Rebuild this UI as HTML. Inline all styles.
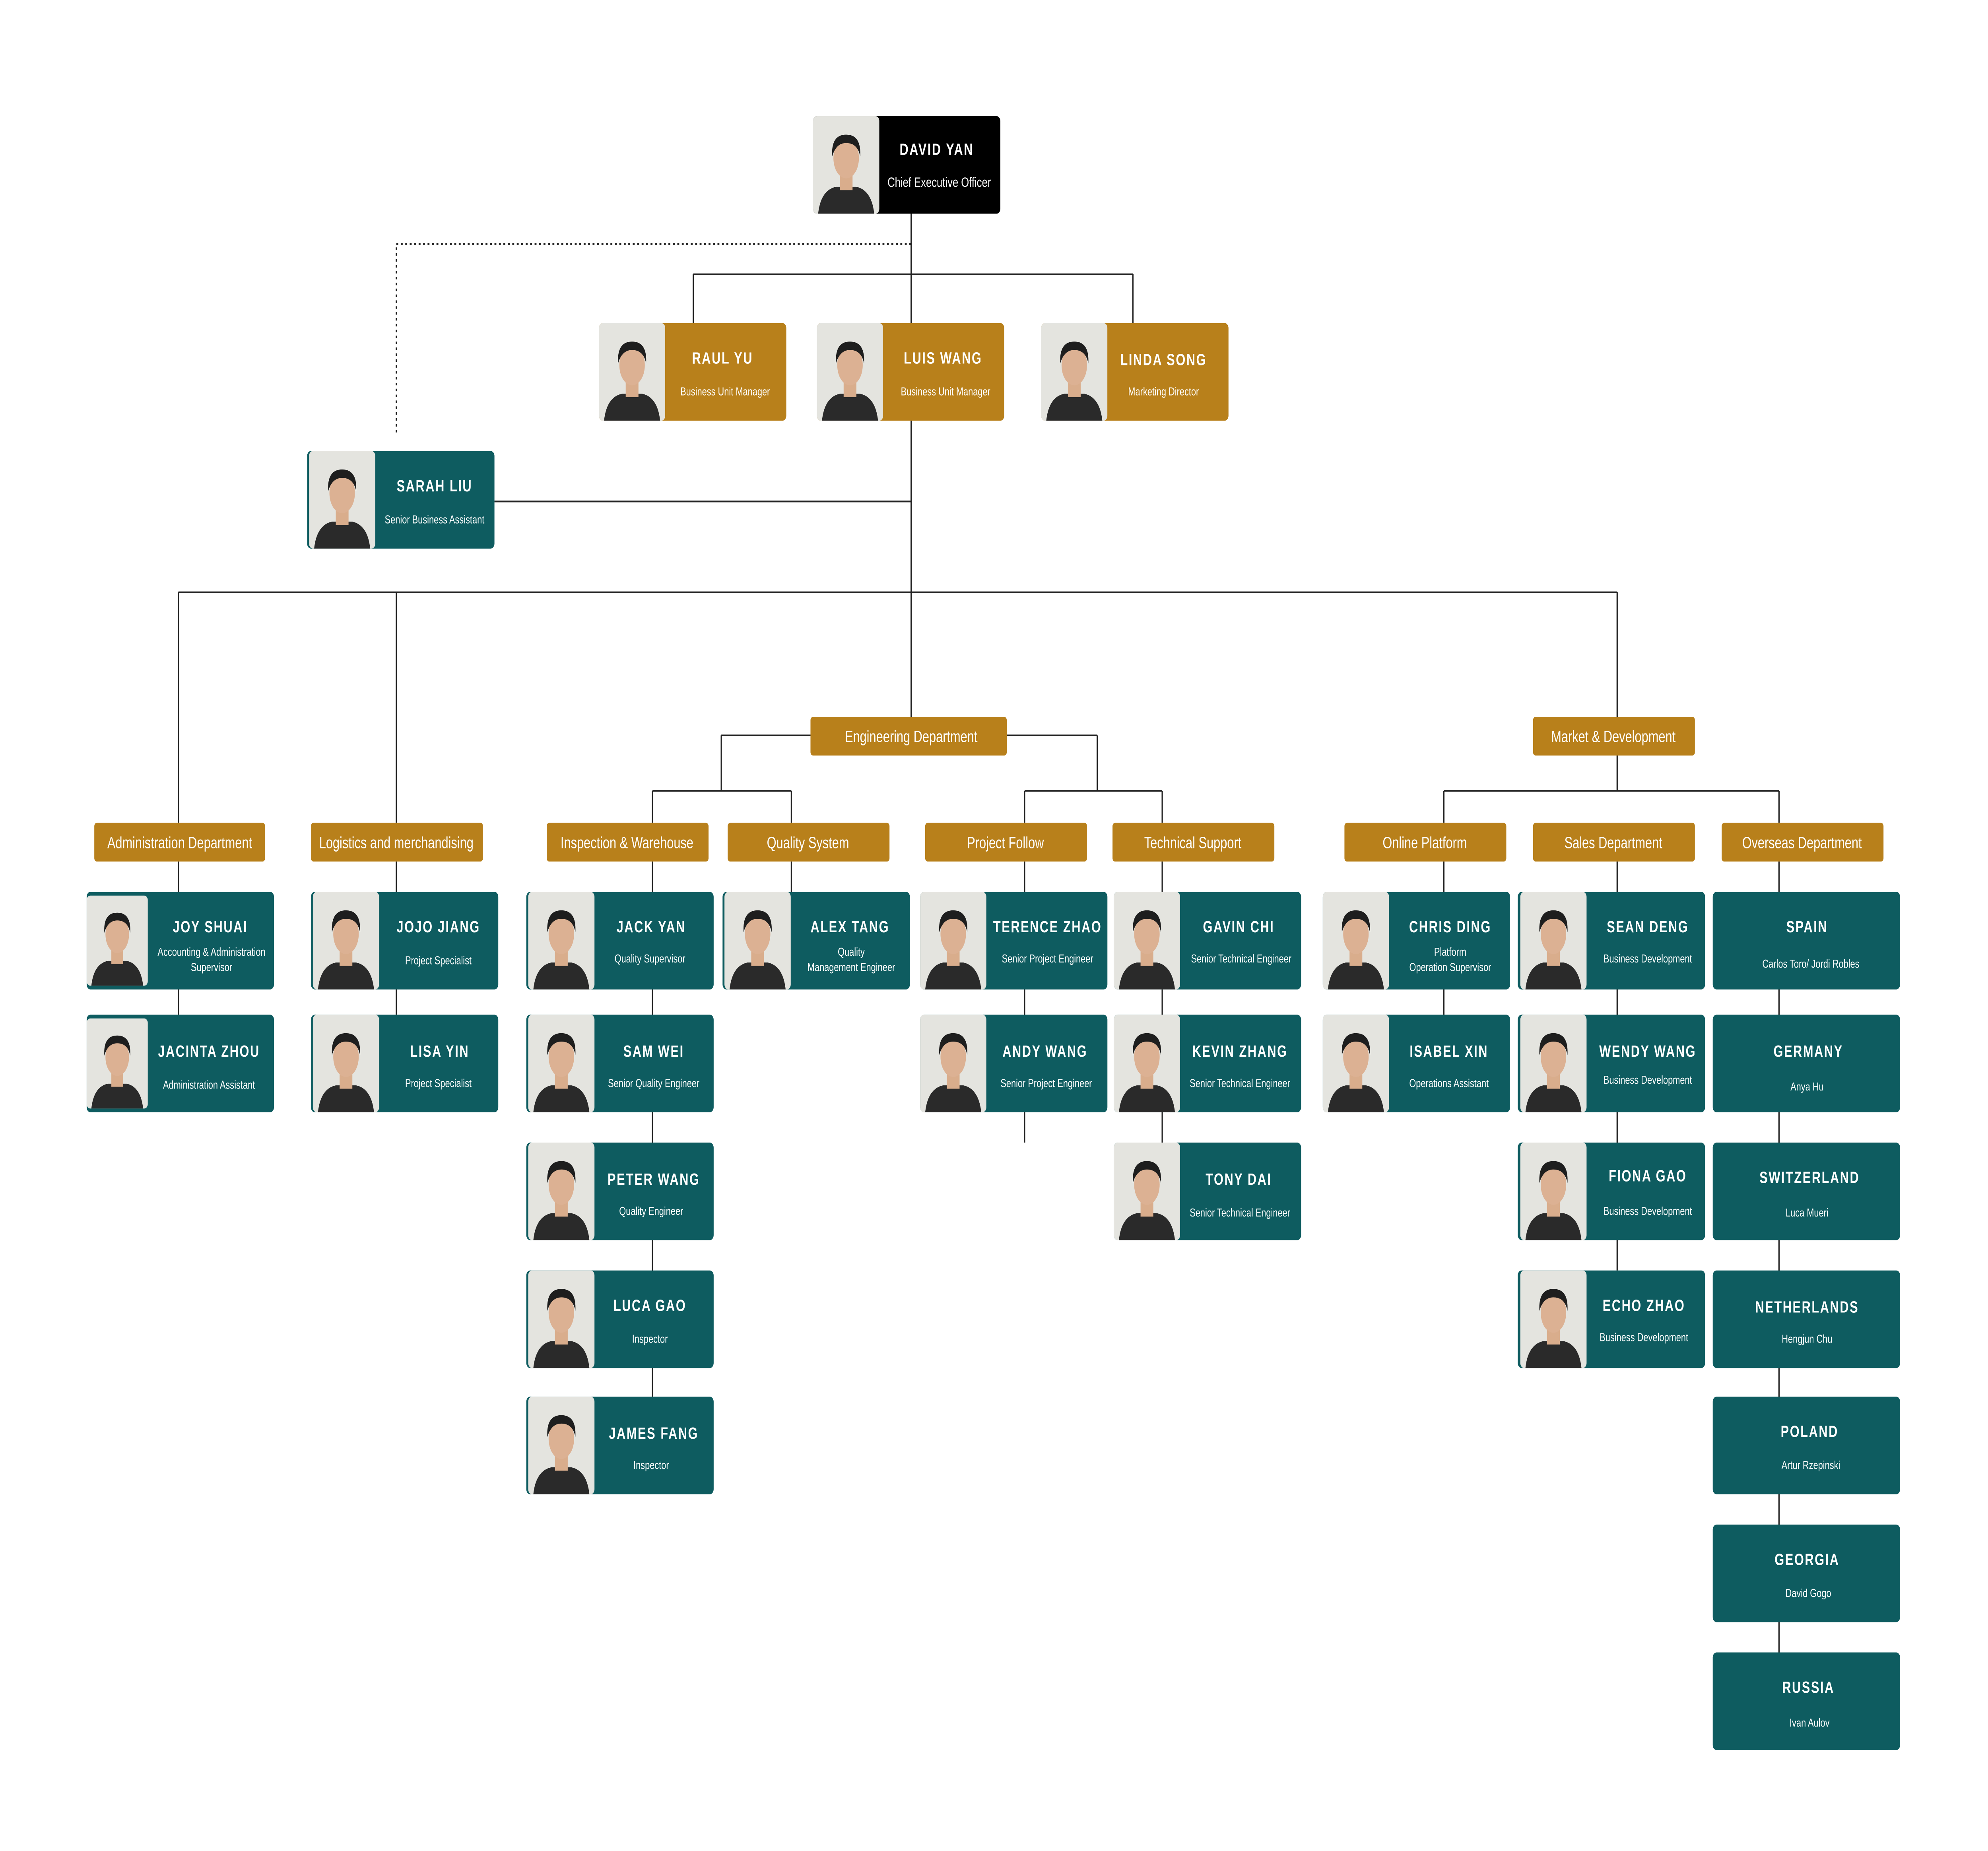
<!DOCTYPE html>
<html><head><meta charset="utf-8"><style>
html,body{margin:0;padding:0;background:#fff;overflow:hidden;width:100vw;height:100vh}
svg{display:block;position:absolute;left:0;top:0;width:100vw;height:100vh}
.n{font-family:"Liberation Sans",sans-serif;font-size:9.6px;font-weight:bold;fill:#fff;text-anchor:middle;letter-spacing:0.8px}
.s{font-family:"Liberation Sans",sans-serif;font-size:6.8px;fill:#fff;text-anchor:middle}
.l{font-family:"Liberation Sans",sans-serif;font-size:9.6px;fill:#fff;text-anchor:middle}
</style></head><body>
<svg viewBox="0 0 1560 1100" preserveAspectRatio="none" xmlns="http://www.w3.org/2000/svg">
<defs>
<symbol id="p" viewBox="0 0 52 58">
<rect width="52" height="58" rx="3" fill="#e4e4df"/>
<path d="M4 58 Q6 44 18 42 L34 42 Q46 44 48 58 Z" fill="#2a2a2a"/>
<rect x="21" y="34" width="10" height="10" fill="#d9ad8c"/>
<ellipse cx="26" cy="25" rx="10" ry="12" fill="#dcb193"/>
<path d="M15 24 Q14 11 26 11 Q38 11 37 24 Q35 16 26 16 Q18 16 15 24 Z" fill="#1e1e1e"/>
</symbol>
</defs>
<g stroke="#222" stroke-width="1" fill="none">
<path d="M715 127 V163 M544 163 H889 M544 163 V192 M715 163 V192 M889 163 V192"/>
<path d="M715 145 H311 V258" stroke-dasharray="1.5,2"/>
<path d="M715 250 V426 M388 298 H715 M140 352 H1269 M140 352 V489 M311 352 V489 M1269 352 V426"/>
<path d="M566 437 H861 M566 437 V470 M861 437 V470 M512 470 H621 M804 470 H912 M512 470 V489 M621 470 V489 M804 470 V489 M912 470 V489"/>
<path d="M1269 449 V470 M1133 470 H1396 M1133 470 V489 M1396 470 V489"/>
<path d="M140 512 V603 M311 512 V603 M512 512 V830 M621 512 V530 M804 512 V679 M912 512 V679 M1133 512 V603 M1269 512 V755 M1396 512 V982"/>
</g>
<g transform="translate(638,69)"><rect width="147" height="58" rx="3" fill="#000"/><use href="#p" width="52" height="58"/><text x="97" y="23" class="n">DAVID YAN</text><text x="99" y="42" class="s" style="font-size:8px">Chief Executive Officer</text></g>
<g transform="translate(470,192)"><rect width="147" height="58" rx="3" fill="#b8801b"/><use href="#p" width="52" height="58"/><text x="97" y="24" class="n">RAUL YU</text><text x="99" y="43" class="s">Business Unit Manager</text></g>
<g transform="translate(641,192)"><rect width="147" height="58" rx="3" fill="#b8801b"/><use href="#p" width="52" height="58"/><text x="99" y="24" class="n">LUIS WANG</text><text x="101" y="43" class="s">Business Unit Manager</text></g>
<g transform="translate(817,192)"><rect width="147" height="58" rx="3" fill="#b8801b"/><use href="#p" width="52" height="58"/><text x="96" y="25" class="n">LINDA SONG</text><text x="96" y="43" class="s">Marketing Director</text></g>
<g transform="translate(241,268)"><rect width="147" height="58" rx="3" fill="#0e5c60"/><use href="#p" width="55" height="58"/><text x="100" y="24" class="n">SARAH LIU</text><text x="100" y="43" class="s">Senior Business Assistant</text></g>
<g>
<rect x="636" y="426" width="154" height="23" rx="2" fill="#b8801b"/><text x="715" y="441" class="l">Engineering Department</text>
<rect x="1203" y="426" width="127" height="23" rx="2" fill="#b8801b"/><text x="1266" y="441" class="l">Market &amp; Development</text>
<rect x="74" y="489" width="134" height="23" rx="2" fill="#b8801b"/><text x="141" y="504" class="l">Administration Department</text>
<rect x="244" y="489" width="135" height="23" rx="2" fill="#b8801b"/><text x="311" y="504" class="l">Logistics and merchandising</text>
<rect x="429" y="489" width="127" height="23" rx="2" fill="#b8801b"/><text x="492" y="504" class="l">Inspection &amp; Warehouse</text>
<rect x="571" y="489" width="127" height="23" rx="2" fill="#b8801b"/><text x="634" y="504" class="l">Quality System</text>
<rect x="726" y="489" width="127" height="23" rx="2" fill="#b8801b"/><text x="789" y="504" class="l">Project Follow</text>
<rect x="873" y="489" width="127" height="23" rx="2" fill="#b8801b"/><text x="936" y="504" class="l">Technical Support</text>
<rect x="1055" y="489" width="127" height="23" rx="2" fill="#b8801b"/><text x="1118" y="504" class="l">Online Platform</text>
<rect x="1203" y="489" width="127" height="23" rx="2" fill="#b8801b"/><text x="1266" y="504" class="l">Sales Department</text>
<rect x="1351" y="489" width="127" height="23" rx="2" fill="#b8801b"/><text x="1414" y="504" class="l">Overseas Department</text>
</g>
<g transform="translate(68,530)"><rect width="147" height="58" rx="3" fill="#0e5c60"/><use href="#p" width="48" height="58"/><text x="97" y="24" class="n">JOY SHUAI</text><text x="98" y="38" class="s">Accounting &amp; Administration</text><text x="98" y="47" class="s">Supervisor</text></g>
<g transform="translate(68,603)"><rect width="147" height="58" rx="3" fill="#0e5c60"/><use href="#p" width="48" height="58"/><text x="96" y="25" class="n">JACINTA ZHOU</text><text x="96" y="44" class="s">Administration Assistant</text></g>
<g transform="translate(244,530)"><rect width="147" height="58" rx="3" fill="#0e5c60"/><use href="#p" width="55" height="58"/><text x="100" y="24" class="n">JOJO JIANG</text><text x="100" y="43" class="s">Project Specialist</text></g>
<g transform="translate(244,603)"><rect width="147" height="58" rx="3" fill="#0e5c60"/><use href="#p" width="55" height="58"/><text x="101" y="25" class="n">LISA YIN</text><text x="100" y="43" class="s">Project Specialist</text></g>
<g transform="translate(413,530)"><rect width="147" height="58" rx="3" fill="#0e5c60"/><use href="#p" width="55" height="58"/><text x="98" y="24" class="n">JACK YAN</text><text x="97" y="42" class="s">Quality Supervisor</text></g>
<g transform="translate(413,603)"><rect width="147" height="58" rx="3" fill="#0e5c60"/><use href="#p" width="55" height="58"/><text x="100" y="25" class="n">SAM WEI</text><text x="100" y="43" class="s">Senior Quality Engineer</text></g>
<g transform="translate(413,679)"><rect width="147" height="58" rx="3" fill="#0e5c60"/><use href="#p" width="55" height="58"/><text x="100" y="25" class="n">PETER  WANG</text><text x="98" y="43" class="s">Quality Engineer</text></g>
<g transform="translate(413,755)"><rect width="147" height="58" rx="3" fill="#0e5c60"/><use href="#p" width="55" height="58"/><text x="97" y="24" class="n">LUCA GAO</text><text x="97" y="43" class="s">Inspector</text></g>
<g transform="translate(413,830)"><rect width="147" height="58" rx="3" fill="#0e5c60"/><use href="#p" width="55" height="58"/><text x="100" y="25" class="n">JAMES FANG</text><text x="98" y="43" class="s">Inspector</text></g>
<g transform="translate(567,530)"><rect width="147" height="58" rx="3" fill="#0e5c60"/><use href="#p" width="55" height="58"/><text x="100" y="24" class="n">ALEX TANG</text><text x="101" y="38" class="s">Quality</text><text x="101" y="47" class="s">Management Engineer</text></g>
<g transform="translate(722,530)"><rect width="147" height="58" rx="3" fill="#0e5c60"/><use href="#p" width="52" height="58"/><text x="100" y="24" class="n">TERENCE ZHAO</text><text x="100" y="42" class="s">Senior Project Engineer</text></g>
<g transform="translate(722,603)"><rect width="147" height="58" rx="3" fill="#0e5c60"/><use href="#p" width="52" height="58"/><text x="98" y="25" class="n">ANDY WANG</text><text x="99" y="43" class="s">Senior Project Engineer</text></g>
<g transform="translate(874,530)"><rect width="147" height="58" rx="3" fill="#0e5c60"/><use href="#p" width="52" height="58"/><text x="98" y="24" class="n">GAVIN CHI</text><text x="100" y="42" class="s">Senior Technical Engineer</text></g>
<g transform="translate(874,603)"><rect width="147" height="58" rx="3" fill="#0e5c60"/><use href="#p" width="52" height="58"/><text x="99" y="25" class="n">KEVIN ZHANG</text><text x="99" y="43" class="s">Senior Technical Engineer</text></g>
<g transform="translate(874,679)"><rect width="147" height="58" rx="3" fill="#0e5c60"/><use href="#p" width="52" height="58"/><text x="98" y="25" class="n">TONY DAI</text><text x="99" y="44" class="s">Senior Technical Engineer</text></g>
<g transform="translate(1038,530)"><rect width="147" height="58" rx="3" fill="#0e5c60"/><use href="#p" width="52" height="58"/><text x="100" y="24" class="n">CHRIS DING</text><text x="100" y="38" class="s">Platform</text><text x="100" y="47" class="s">Operation Supervisor</text></g>
<g transform="translate(1038,603)"><rect width="147" height="58" rx="3" fill="#0e5c60"/><use href="#p" width="52" height="58"/><text x="99" y="25" class="n">ISABEL XIN</text><text x="99" y="43" class="s">Operations Assistant</text></g>
<g transform="translate(1191,530)"><rect width="147" height="58" rx="3" fill="#0e5c60"/><use href="#p" width="56" height="58"/><text x="102" y="24" class="n">SEAN DENG</text><text x="102" y="42" class="s">Business Development</text></g>
<g transform="translate(1191,603)"><rect width="147" height="58" rx="3" fill="#0e5c60"/><use href="#p" width="56" height="58"/><text x="102" y="25" class="n">WENDY WANG</text><text x="102" y="41" class="s">Business Development</text></g>
<g transform="translate(1191,679)"><rect width="147" height="58" rx="3" fill="#0e5c60"/><use href="#p" width="56" height="58"/><text x="102" y="23" class="n">FIONA GAO</text><text x="102" y="43" class="s">Business Development</text></g>
<g transform="translate(1191,755)"><rect width="147" height="58" rx="3" fill="#0e5c60"/><use href="#p" width="56" height="58"/><text x="99" y="24" class="n">ECHO ZHAO</text><text x="99" y="42" class="s">Business Development</text></g>
<g transform="translate(1344,530)"><rect width="147" height="58" rx="3" fill="#0e5c60"/><text x="74" y="24" class="n">SPAIN</text><text x="77" y="45" class="s">Carlos Toro/ Jordi Robles</text></g>
<g transform="translate(1344,603)"><rect width="147" height="58" rx="3" fill="#0e5c60"/><text x="75" y="25" class="n">GERMANY</text><text x="74" y="45" class="s">Anya Hu</text></g>
<g transform="translate(1344,679)"><rect width="147" height="58" rx="3" fill="#0e5c60"/><text x="76" y="24" class="n">SWITZERLAND</text><text x="74" y="44" class="s">Luca Mueri</text></g>
<g transform="translate(1344,755)"><rect width="147" height="58" rx="3" fill="#0e5c60"/><text x="74" y="25" class="n">NETHERLANDS</text><text x="74" y="43" class="s">Hengjun Chu</text></g>
<g transform="translate(1344,830)"><rect width="147" height="58" rx="3" fill="#0e5c60"/><text x="76" y="24" class="n">POLAND</text><text x="77" y="43" class="s">Artur Rzepinski</text></g>
<g transform="translate(1344,906)"><rect width="147" height="58" rx="3" fill="#0e5c60"/><text x="74" y="24" class="n">GEORGIA</text><text x="75" y="43" class="s">David Gogo</text></g>
<g transform="translate(1344,982)"><rect width="147" height="58" rx="3" fill="#0e5c60"/><text x="75" y="24" class="n">RUSSIA</text><text x="76" y="44" class="s">Ivan Aulov</text></g>
</svg>
</body></html>
